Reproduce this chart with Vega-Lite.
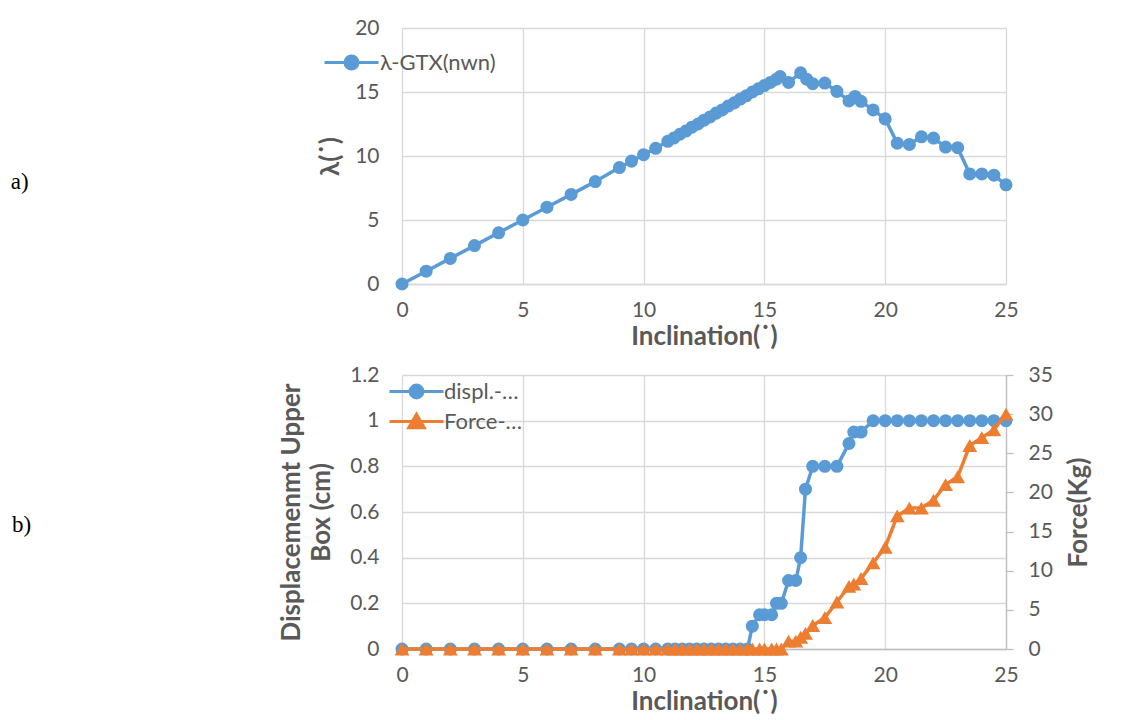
{
  "$schema": "https://vega.github.io/schema/vega-lite/v6.json",
  "background": "white",
  "padding": {"left": 10, "top": 17, "right": 0, "bottom": 0},
  "bounds": "flush",
  "spacing": 91,
  "resolve": {"scale": {"color": "independent"}, "legend": {"color": "independent"}},
  "config": {
    "font": "Lato",
    "view": {"stroke": null},
    "axis": {
      "labelFont": "Lato", "labelFontSize": 21, "labelColor": "#595959",
      "titleFont": "Lato", "titleFontSize": 26, "titleFontWeight": "bold", "titleColor": "#595959",
      "gridColor": "#d9d9d9", "gridWidth": 1.3, "domainColor": "#bfbfbf", "domainWidth": 1.3,
      "ticks": false, "tickSize": 0, "labelFlush": false
    },
    "legend": {"labelFont": "Lato", "labelFontSize": 22, "labelColor": "#595959", "padding": 0}
  },
  "datasets": {
    "top": [
      {"inc": 0, "lam": 0}, {"inc": 1, "lam": 1}, {"inc": 2, "lam": 2}, {"inc": 3, "lam": 3},
      {"inc": 4, "lam": 4}, {"inc": 5, "lam": 5}, {"inc": 6, "lam": 6}, {"inc": 7, "lam": 7},
      {"inc": 8, "lam": 8}, {"inc": 9, "lam": 9.1}, {"inc": 9.5, "lam": 9.6}, {"inc": 10, "lam": 10.1},
      {"inc": 10.5, "lam": 10.6}, {"inc": 11, "lam": 11.15}, {"inc": 11.25, "lam": 11.4},
      {"inc": 11.5, "lam": 11.7}, {"inc": 11.75, "lam": 11.95}, {"inc": 12, "lam": 12.25},
      {"inc": 12.25, "lam": 12.5}, {"inc": 12.5, "lam": 12.8}, {"inc": 12.75, "lam": 13.05},
      {"inc": 13, "lam": 13.35}, {"inc": 13.25, "lam": 13.6}, {"inc": 13.5, "lam": 13.9},
      {"inc": 13.75, "lam": 14.15}, {"inc": 14, "lam": 14.45}, {"inc": 14.25, "lam": 14.7},
      {"inc": 14.5, "lam": 15.0}, {"inc": 14.75, "lam": 15.25}, {"inc": 15, "lam": 15.5},
      {"inc": 15.25, "lam": 15.75}, {"inc": 15.5, "lam": 16.0}, {"inc": 15.65, "lam": 16.2},
      {"inc": 16, "lam": 15.75}, {"inc": 16.5, "lam": 16.5}, {"inc": 16.75, "lam": 16.0},
      {"inc": 17, "lam": 15.65}, {"inc": 17.5, "lam": 15.7}, {"inc": 18, "lam": 15.05},
      {"inc": 18.5, "lam": 14.3}, {"inc": 18.75, "lam": 14.65}, {"inc": 19, "lam": 14.27},
      {"inc": 19.5, "lam": 13.6}, {"inc": 20, "lam": 12.9}, {"inc": 20.5, "lam": 11.0},
      {"inc": 21, "lam": 10.9}, {"inc": 21.5, "lam": 11.5}, {"inc": 22, "lam": 11.4},
      {"inc": 22.5, "lam": 10.7}, {"inc": 23, "lam": 10.65}, {"inc": 23.5, "lam": 8.6},
      {"inc": 24, "lam": 8.6}, {"inc": 24.5, "lam": 8.5}, {"inc": 25, "lam": 7.75}
    ],
    "bottom": [
      {"inc": 0, "displ": 0, "force": 0}, {"inc": 1, "displ": 0, "force": 0},
      {"inc": 2, "displ": 0, "force": 0}, {"inc": 3, "displ": 0, "force": 0},
      {"inc": 4, "displ": 0, "force": 0}, {"inc": 5, "displ": 0, "force": 0},
      {"inc": 6, "displ": 0, "force": 0}, {"inc": 7, "displ": 0, "force": 0},
      {"inc": 8, "displ": 0, "force": 0}, {"inc": 9, "displ": 0, "force": 0},
      {"inc": 9.5, "displ": 0, "force": 0}, {"inc": 10, "displ": 0, "force": 0},
      {"inc": 10.5, "displ": 0, "force": 0}, {"inc": 11, "displ": 0, "force": 0},
      {"inc": 11.3, "displ": 0, "force": 0}, {"inc": 11.6, "displ": 0, "force": 0},
      {"inc": 11.9, "displ": 0, "force": 0}, {"inc": 12.2, "displ": 0, "force": 0},
      {"inc": 12.5, "displ": 0, "force": 0}, {"inc": 12.8, "displ": 0, "force": 0},
      {"inc": 13.1, "displ": 0, "force": 0}, {"inc": 13.4, "displ": 0, "force": 0},
      {"inc": 13.7, "displ": 0, "force": 0}, {"inc": 14.0, "displ": 0, "force": 0},
      {"inc": 14.3, "displ": 0, "force": 0}, {"inc": 14.5, "displ": 0.1, "force": 0},
      {"inc": 14.8, "displ": 0.15, "force": 0}, {"inc": 15.0, "displ": 0.15, "force": 0},
      {"inc": 15.3, "displ": 0.15, "force": 0}, {"inc": 15.5, "displ": 0.2, "force": 0},
      {"inc": 15.7, "displ": 0.2, "force": 0}, {"inc": 16.0, "displ": 0.3, "force": 1},
      {"inc": 16.3, "displ": 0.3, "force": 1}, {"inc": 16.5, "displ": 0.4, "force": 1.5},
      {"inc": 16.7, "displ": 0.7, "force": 2}, {"inc": 17.0, "displ": 0.8, "force": 3},
      {"inc": 17.5, "displ": 0.8, "force": 4}, {"inc": 18.0, "displ": 0.8, "force": 6},
      {"inc": 18.5, "displ": 0.9, "force": 8}, {"inc": 18.7, "displ": 0.95, "force": 8.3},
      {"inc": 19.0, "displ": 0.95, "force": 9}, {"inc": 19.5, "displ": 1, "force": 11},
      {"inc": 20.0, "displ": 1, "force": 13}, {"inc": 20.5, "displ": 1, "force": 17},
      {"inc": 21.0, "displ": 1, "force": 18}, {"inc": 21.5, "displ": 1, "force": 18},
      {"inc": 22.0, "displ": 1, "force": 19}, {"inc": 22.5, "displ": 1, "force": 21},
      {"inc": 23.0, "displ": 1, "force": 22}, {"inc": 23.5, "displ": 1, "force": 26},
      {"inc": 24.0, "displ": 1, "force": 27}, {"inc": 24.5, "displ": 1, "force": 28},
      {"inc": 25.0, "displ": 1, "force": 30}
    ]
  },
  "vconcat": [
    {
      "width": 604,
      "height": 256,
      "title": {"text": "a)", "orient": "left", "anchor": "middle", "angle": 0, "font": "Liberation Serif", "fontSize": 23, "fontWeight": "normal", "color": "#000000", "offset": 280, "dy": 26, "align": "center", "baseline": "middle"},
      "data": {"name": "top"},
      "mark": {"type": "line", "strokeWidth": 3.5, "strokeJoin": "round", "point": {"filled": true, "size": 170, "opacity": 1}},
      "encoding": {
        "x": {"field": "inc", "type": "quantitative", "scale": {"domain": [0, 25], "nice": false},
              "axis": {"values": [0, 5, 10, 15, 20, 25], "title": "Inclination(˙)", "grid": true, "labelPadding": 15, "titlePadding": 3, "domainColor": "#d9d9d9"}},
        "y": {"field": "lam", "type": "quantitative", "scale": {"domain": [0, 20], "nice": false},
              "axis": {"values": [0, 5, 10, 15, 20], "title": "λ(˙)", "domain": false, "labelPadding": 23, "titlePadding": 11}},
        "color": {"datum": "λ-GTX(nwn)", "scale": {"domain": ["λ-GTX(nwn)"], "range": ["#5b9bd5"]},
                  "legend": {"title": null, "orient": "none", "legendX": -79, "legendY": 6, "symbolSize": 2916, "labelOffset": 0,
                             "encode": {"symbols": {"update": {
                               "shape": {"value": "M-1,0L1,0M-0.24,0A0.24,0.24,0,1,0,0.24,0A0.24,0.24,0,1,0,-0.24,0Z"},
                               "fill": {"value": "#5b9bd5"}, "stroke": {"value": "#5b9bd5"}, "strokeWidth": {"value": 3}, "size": {"value": 2916}, "opacity": {"value": 1}}}}}}
      }
    },
    {
      "width": 604,
      "height": 274,
      "title": {"text": "b)", "orient": "left", "anchor": "middle", "angle": 0, "font": "Liberation Serif", "fontSize": 23, "fontWeight": "normal", "color": "#000000", "offset": 238, "dy": 13, "align": "center", "baseline": "middle"},
      "data": {"name": "bottom"},
      "layer": [
        {
          "mark": {"type": "line", "strokeWidth": 3.5, "strokeJoin": "round", "point": {"filled": true, "size": 170, "opacity": 1}},
          "encoding": {
            "x": {"field": "inc", "type": "quantitative", "scale": {"domain": [0, 25], "nice": false},
                  "axis": {"values": [0, 5, 10, 15, 20, 25], "title": "Inclination(˙)", "grid": true, "labelPadding": 15, "titlePadding": 3}},
            "y": {"field": "displ", "type": "quantitative", "scale": {"domain": [0, 1.2], "nice": false},
                  "axis": {"values": [0, 0.2, 0.4, 0.6, 0.8, 1, 1.2], "format": "~g", "title": ["Displacemenmt Upper", "Box (cm)"], "titleLineHeight": 30, "domain": false, "labelPadding": 23, "titlePadding": 15}},
            "color": {"datum": "displ.-…", "scale": {"domain": ["displ.-…", "Force-…"], "range": ["#5b9bd5", "#ed7d31"]},
                      "legend": {"title": null, "orient": "none", "legendX": 3, "legendY": 5, "symbolSize": 400, "labelOffset": 16, "rowPadding": 4,
                                 "encode": {"symbols": {"update": {
                                   "shape": {"signal": "datum.value === 'Force-…' ? 'M-2.7,0L2.7,0M-0.78,0.62L0.78,0.62L0,-0.72Z' : 'M-2.7,0L2.7,0M-0.64,0A0.64,0.64,0,1,0,0.64,0A0.64,0.64,0,1,0,-0.64,0Z'"},
                                   "fill": {"signal": "datum.value === 'Force-…' ? '#ed7d31' : '#5b9bd5'"},
                                   "stroke": {"signal": "datum.value === 'Force-…' ? '#ed7d31' : '#5b9bd5'"},
                                   "strokeWidth": {"value": 3}, "size": {"value": 400}, "opacity": {"value": 1}}}}}}
          }
        },
        {
          "mark": {"type": "line", "strokeWidth": 3.5, "strokeJoin": "round", "point": {"filled": true, "size": 220, "shape": "triangle-up", "opacity": 1}},
          "encoding": {
            "x": {"field": "inc", "type": "quantitative"},
            "y": {"field": "force", "type": "quantitative", "scale": {"domain": [0, 35], "nice": false},
                  "axis": {"orient": "right", "values": [0, 5, 10, 15, 20, 25, 30, 35], "title": "Force(Kg)", "grid": false, "domain": true, "ticks": true, "tickSize": 7, "tickColor": "#bfbfbf", "tickWidth": 1.3, "labelPadding": 15, "titlePadding": 13, "titleAngle": 270, "titleBaseline": "top"}},
            "color": {"datum": "Force-…"}
          }
        }
      ],
      "resolve": {"scale": {"y": "independent"}}
    }
  ]
}
